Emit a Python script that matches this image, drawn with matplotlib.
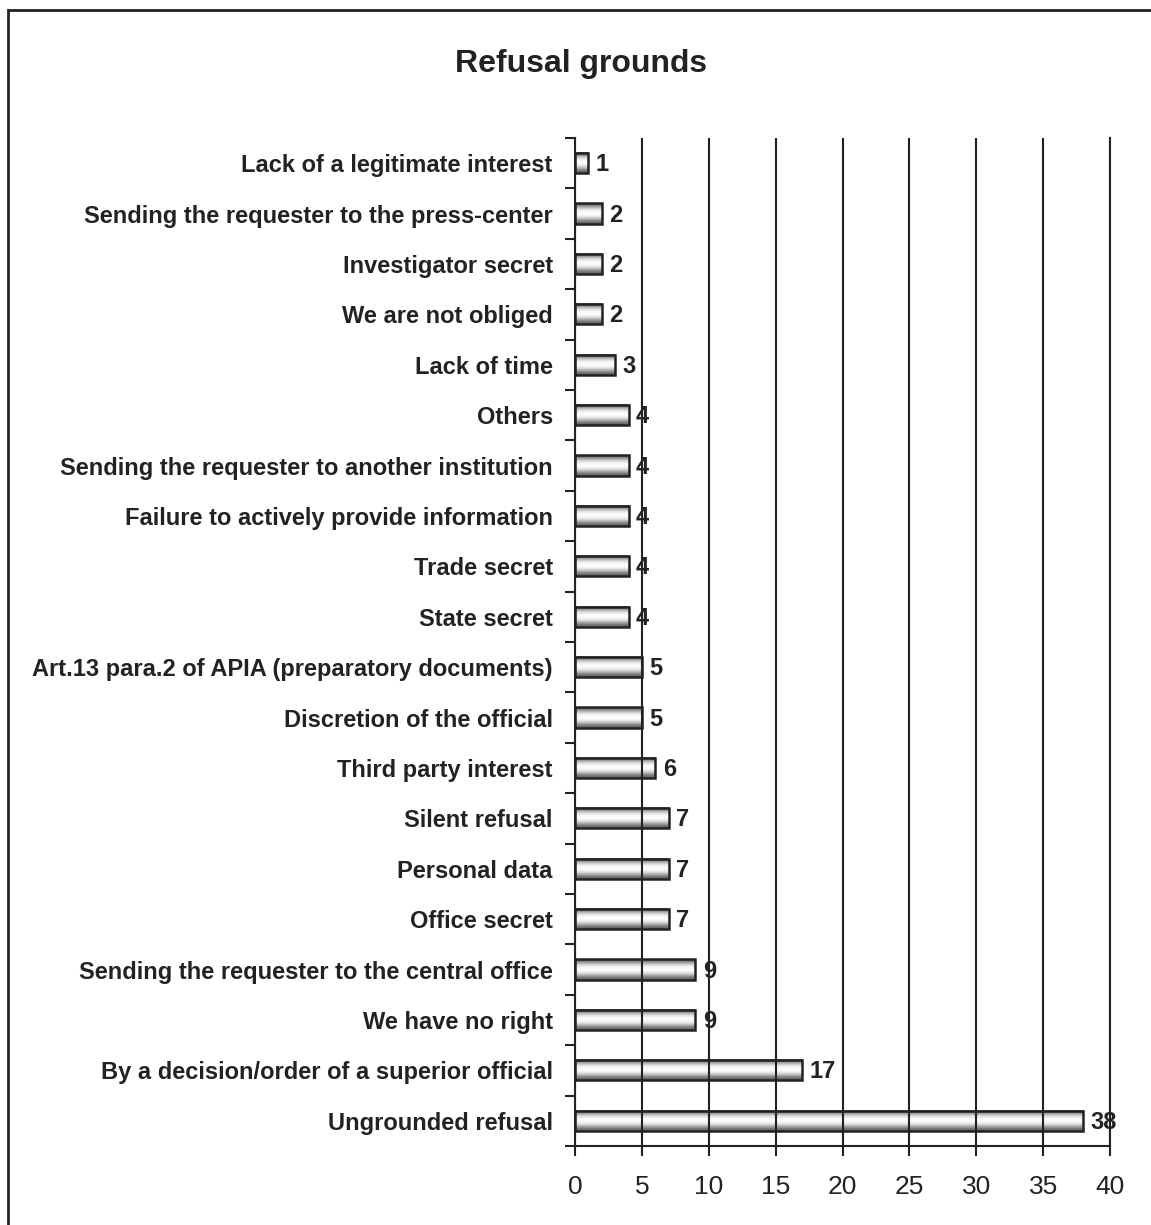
import matplotlib
matplotlib.use("Agg")
import matplotlib.pyplot as plt
from matplotlib.patches import Rectangle
import numpy as np

plt.rcParams['font.family'] = ['Liberation Sans', 'DejaVu Sans']

categories = [
    "Lack of a legitimate interest",
    "Sending the requester to the press-center",
    "Investigator secret",
    "We are not obliged",
    "Lack of time",
    "Others",
    "Sending the requester to another institution",
    "Failure to actively provide information",
    "Trade secret",
    "State secret",
    "Art.13 para.2 of APIA (preparatory documents)",
    "Discretion of the official",
    "Third party interest",
    "Silent refusal",
    "Personal data",
    "Office secret",
    "Sending the requester to the central office",
    "We have no right",
    "By a decision/order of a superior official",
    "Ungrounded refusal",
]
values = [1, 2, 2, 2, 3, 4, 4, 4, 4, 4, 5, 5, 6, 7, 7, 7, 9, 9, 17, 38]
xticks = [0, 5, 10, 15, 20, 25, 30, 35, 40]

fig = plt.figure(figsize=(11.51, 12.25), dpi=100)
ax = fig.add_axes([0.4996, 0.0645, 0.4648, 0.8229])

# cylinder-like shading profile across bar height
profile = np.array([0.4, 0.55, 0.75, 0.9, 0.97, 0.99, 0.95, 0.85, 0.68, 0.5, 0.4])
grad = profile.reshape(-1, 1)

h = 0.4
ypos = np.arange(len(categories))
for y, v in zip(ypos, values):
    ax.imshow(grad, extent=[0, v, y + h / 2, y - h / 2], aspect='auto',
              cmap='gray', vmin=0, vmax=1, zorder=2, interpolation='bilinear')
ax.barh(ypos, values, height=h, fill=False, edgecolor='#222222',
        linewidth=1.8, zorder=3)

for y, v in zip(ypos, values):
    ax.text(v + 0.55, y + 0.03, str(v), va='center', ha='left', fontsize=17,
            fontweight='bold', color='#222222', zorder=1)

ax.set_xlim(0, 40)
ax.set_ylim(len(categories) - 0.5, -0.5)
ax.set_aspect('auto')

ax.set_xticks(xticks)
ax.set_xticklabels([str(t) for t in xticks], fontsize=19, color='#222222')
ax.tick_params(axis='x', direction='out', length=7, width=1.5, pad=14,
               color='#222222')

ax.set_yticks(ypos)
ax.set_yticklabels(categories, fontsize=17, fontweight='bold', color='#222222')
ax.tick_params(axis='y', which='major', length=0, pad=16)
ax.set_yticks(np.arange(-0.5, len(categories), 1), minor=True)
ax.tick_params(axis='y', which='minor', direction='out', length=7, width=1.5,
               color='#222222')

ax.xaxis.grid(True, color='#222222', linewidth=1.5, zorder=0)
ax.set_axisbelow(False)
ax.spines['top'].set_visible(False)
for side in ['left', 'bottom', 'right']:
    ax.spines[side].set_linewidth(1.5)
    ax.spines[side].set_color('#222222')

fig.text(0.505, 0.948, "Refusal grounds", ha='center', va='center',
         fontsize=23, fontweight='bold', color='#222222')

frame = Rectangle((8 / 1151, -0.01), 1.0, 1 - 10 / 1225 + 0.01,
                  transform=fig.transFigure, fill=False,
                  edgecolor='#222222', linewidth=2)
fig.patches.append(frame)

fig.savefig("out.png", dpi=100)
